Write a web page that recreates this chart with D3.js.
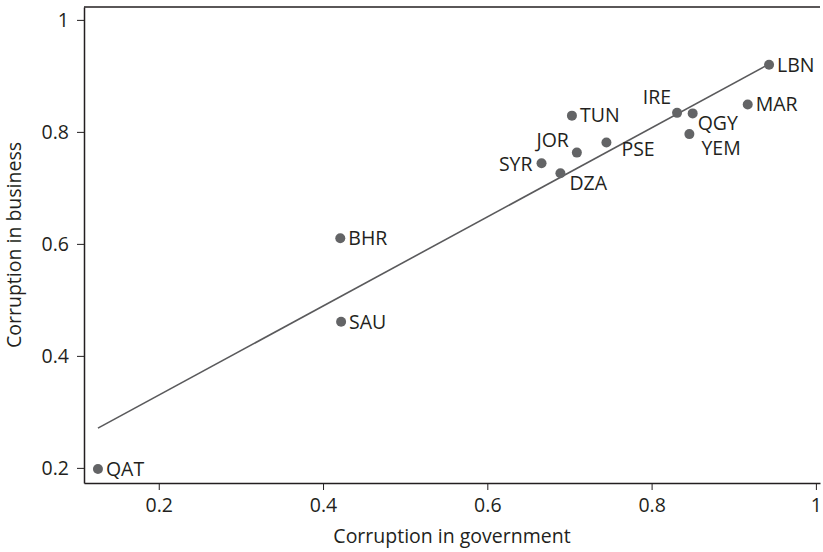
<!DOCTYPE html>
<html>
<head>
<meta charset="utf-8">
<script src="https://cdn.jsdelivr.net/npm/d3@7"></script>
<style>
  body { margin: 0; background: #fff; }
  #chart { width: 823px; height: 552px; }
  text { font-family: "Open Sans", "Noto Sans", sans-serif; fill: #231f20; }
</style>
</head>
<body>
<div id="chart"></div>
<script>
//Datos
const paises = ['QAT', 'SAU', 'BHR', 'SYR', 'DZA', 'TUN', 'JOR', 'PSE', 'IRE', 'YEM', 'QGY', 'MAR', 'LBN'];
const gobierno = [0.126, 0.422, 0.421, 0.666, 0.689, 0.703, 0.709, 0.745, 0.831, 0.846, 0.850, 0.917, 0.943];
const negocio = [0.198, 0.461, 0.610, 0.744, 0.726, 0.829, 0.763, 0.781, 0.834, 0.796, 0.833, 0.849, 0.920];

//Recta de ajuste (extremos)
const ajusteX = [0.126, 0.943];
const ajusteY = [0.271, 0.921];

const ticksX = [0.2, 0.4, 0.6, 0.8, 1];
const ticksY = [0.2, 0.4, 0.6, 0.8, 1];

//Colocación de etiquetas (dx, dy, anchor)
const etiquetas = {
    SYR: [-9, 1, 'end'],
    JOR: [-8, -12, 'end'],
    DZA: [9, 10, 'start'],
    PSE: [15, 7, 'start'],
    IRE: [-6, -16, 'end'],
    QGY: [5, 10, 'start'],
    YEM: [12, 14, 'start']
};

const FONT = 19.5;

let margin = {top: 7, right: 3, bottom: 69, left: 84},
    width = 823 - margin.left - margin.right,
    height = 552 - margin.top - margin.bottom;

let svg = d3.select('#chart')
    .append('svg')
        .attr('width', 823)
        .attr('height', 552)
    .append('g')
        .attr('transform', 'translate(' + margin.left + ',' + margin.top + ')');

let x = d3.scaleLinear()
    .domain([0.109, 1.005])
    .range([0, width]);

let y = d3.scaleLinear()
    .domain([0.173, 1.023])
    .range([height, 0]);

let fmt = function(d) { return d == 1 ? '1' : d3.format('.1f')(d); };

//Eje X
let xAxis = function(g) {
    g.call(d3.axisBottom(x).tickValues(ticksX).tickFormat(fmt).tickSizeInner(7).tickSizeOuter(0).tickPadding(8));
    g.call(function(g) { g.select('.domain').attr('stroke', '#231f20').attr('stroke-width', 1.5); });
    g.call(function(g) { g.selectAll('.tick line').attr('stroke', '#231f20'); });
    g.call(function(g) { g.selectAll('.tick text').attr('font-size', FONT); });
}

svg.append('g')
    .attr('transform', 'translate(0,' + height + ')')
    .call(xAxis);

//Eje Y
let yAxis = function(g) {
    g.call(d3.axisLeft(y).tickValues(ticksY).tickFormat(fmt).tickSizeInner(7).tickSizeOuter(0).tickPadding(8));
    g.call(function(g) { g.select('.domain').attr('stroke', '#231f20').attr('stroke-width', 1.5); });
    g.call(function(g) { g.selectAll('.tick line').attr('stroke', '#231f20'); });
    g.call(function(g) { g.selectAll('.tick text').attr('font-size', FONT); });
}

svg.append('g')
    .call(yAxis);

//Línea superior
svg.append('line')
    .attr('x1', 0)
    .attr('x2', width)
    .attr('y1', 0)
    .attr('y2', 0)
    .attr('stroke', '#231f20')
    .attr('stroke-width', 1.5);

//Títulos
svg.append('text')
    .attr('x', width / 2)
    .attr('y', height + 60)
    .attr('text-anchor', 'middle')
    .attr('font-size', FONT)
    .text('Corruption in government');

svg.append('text')
    .attr('transform', 'translate(' + (-63) + ',' + (height / 2) + ') rotate(-90)')
    .attr('text-anchor', 'middle')
    .attr('font-size', FONT)
    .text('Corruption in business');

//Recta de ajuste
svg.append('line')
    .attr('x1', x(ajusteX[0]))
    .attr('y1', y(ajusteY[0]))
    .attr('x2', x(ajusteX[1]))
    .attr('y2', y(ajusteY[1]))
    .attr('stroke', '#5a5a5c')
    .attr('stroke-width', 1.6);

let data = paises.map(function(p, i) { return {pais: p, gob: gobierno[i], neg: negocio[i]}; });

//Puntos
svg.append('g')
    .selectAll('circle')
    .data(data)
    .enter()
    .append('circle')
    .attr('cx', function(d) { return x(d.gob); })
    .attr('cy', function(d) { return y(d.neg); })
    .attr('r', 5)
    .attr('fill', '#636466');

//Etiquetas
let pos = function(d) { return etiquetas[d.pais] || [8, 0, 'start']; };

svg.append('g')
    .selectAll('text')
    .data(data)
    .enter()
    .append('text')
    .attr('x', function(d) { return x(d.gob) + pos(d)[0]; })
    .attr('y', function(d) { return y(d.neg) + pos(d)[1]; })
    .attr('dy', '0.35em')
    .attr('text-anchor', function(d) { return pos(d)[2]; })
    .attr('font-size', FONT)
    .text(function(d) { return d.pais; });
</script>
</body>
</html>
